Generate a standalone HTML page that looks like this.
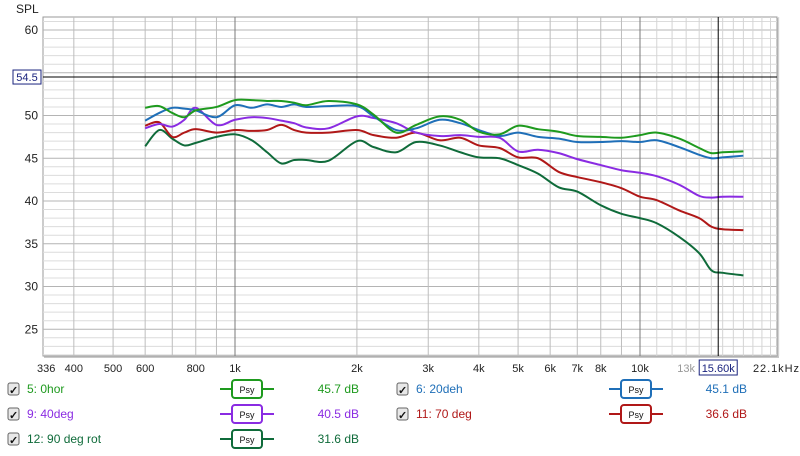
<!DOCTYPE html>
<html><head><meta charset="utf-8"><style>
body{margin:0;background:#fff;font-family:"Liberation Sans",sans-serif;}
svg{display:block}
</style></head><body>
<svg id="chart" width="800" height="456" viewBox="0 0 800 456" xmlns="http://www.w3.org/2000/svg" font-family="Liberation Sans, sans-serif">
<rect x="0" y="0" width="800" height="456" fill="#fff"/>
<text x="16" y="13" font-size="12" fill="#222">SPL</text>
<rect x="44" y="18" width="735" height="340" fill="#c8c8c8"/>
<rect x="43" y="17" width="734" height="339" fill="#fff" stroke="#999"/>
<g id="grid"></g>
<g id="series"></g>
<g id="axes"></g>
<g id="legend"></g>
</svg>
<script>
const freqs=[600,650,700,750,800,900,1000,1100,1200,1300,1400,1500,1700,2000,2200,2500,2800,3200,3600,4000,4500,5000,5600,6300,7000,8000,9000,10000,11000,12500,14000,15000,16000,18000];
const hor0=[50.9,51.1,50.3,49.8,50.6,51.0,51.8,51.8,51.7,51.7,51.5,51.2,51.7,51.3,50.1,48.0,48.9,49.9,49.5,48.1,47.8,48.8,48.4,48.1,47.6,47.5,47.4,47.7,48.0,47.3,46.2,45.6,45.7,45.8];
const deh20=[49.4,50.3,50.9,50.8,50.6,49.8,51.2,50.9,51.3,51.0,51.3,51.0,51.1,51.1,49.9,48.3,48.5,49.5,49.1,48.3,47.6,48.0,47.5,47.3,46.9,46.9,47.0,46.9,47.1,46.3,45.4,45.0,45.1,45.3];
const deg40=[48.5,49.0,48.7,49.5,50.9,48.9,49.5,49.8,49.7,49.4,49.1,48.6,48.5,49.9,49.7,49.1,48.0,47.6,47.7,47.5,47.4,45.8,46.0,45.6,44.9,44.2,43.6,43.3,42.9,41.9,40.6,40.4,40.5,40.5];
const deg70=[48.8,49.2,47.5,48.0,48.4,48.0,48.3,48.2,48.3,48.9,48.3,48.0,48.0,48.3,47.7,47.4,48.0,47.1,47.4,46.5,46.2,45.1,45.0,43.4,42.8,42.2,41.5,40.5,40.1,38.9,38.0,37.0,36.7,36.6];
const rot90=[46.4,48.3,47.3,46.5,46.8,47.5,47.8,47.1,45.7,44.4,44.8,44.8,44.7,47.0,46.3,45.7,46.9,46.5,45.7,45.1,45.0,44.2,43.2,41.6,41.1,39.5,38.5,38.0,37.4,35.8,33.9,31.9,31.6,31.3];
const yTicks=[60,50,45,40,35,30,25];
const xTickVals=[336,400,500,600,800,1000,2000,3000,4000,5000,6000,7000,8000,10000,13000,22100];
const xTickLabels=["336","400","500","600","800","1k","2k","3k","4k","5k","6k","7k","8k","10k","13k","22.1kHz"];
const cursorFreq=15600, cursorDb=54.5;
const legendNames=["5: 0hor","6: 20deh","9: 40deg","11: 70 deg","12: 90 deg rot"];
const legendValues=["45.7 dB","45.1 dB","40.5 dB","36.6 dB","31.6 dB"];

const NS="http://www.w3.org/2000/svg";
const X=f=>235+405*Math.log10(f/1000);
const Y=d=>30+(60-d)*8.55;
function mk(tag,attrs,parent){const e=document.createElementNS(NS,tag);for(const k in attrs)e.setAttribute(k,attrs[k]);parent.appendChild(e);return e;}
const grid=document.getElementById('grid'),axes=document.getElementById('axes'),ser=document.getElementById('series'),leg=document.getElementById('legend');
for(let d=22;d<=61;d++){const y=Y(d);const l=mk('line',{x1:43,x2:777,y1:y,y2:y,stroke:d%5===0?'#b4b4b4':'#dcdcdc','stroke-width':1},grid);

}
const vf=[];for(let f=400;f<1000;f+=100)vf.push(f);for(let f=2000;f<10000;f+=1000)vf.push(f);for(let f=11000;f<=22000;f+=1000)vf.push(f);
vf.forEach(f=>{const x=X(f);const l=mk('line',{x1:x,x2:x,y1:17,y2:356,stroke:f>10000?'#d4d4d4':'#bdbdbd','stroke-width':1},grid);

});
[1000,10000].forEach(f=>{const x=X(f);const l=mk('line',{x1:x,x2:x,y1:17,y2:356,stroke:'#7a7a7a','stroke-width':1},grid);

});
const colors=['#1e9a1e','#1f6fb8','#8a2be2','#b01818','#0f6b3a'];
const data=[hor0,deh20,deg40,deg70,rot90];
const snames=['series-0hor','series-20deh','series-40deg','series-70deg','series-90deg-rot'];
function smooth(pts){let d=`M${pts[0][0]},${pts[0][1]}`;for(let i=0;i<pts.length-1;i++){const p0=pts[Math.max(0,i-1)],p1=pts[i],p2=pts[i+1],p3=pts[Math.min(pts.length-1,i+2)];
const c1=[p1[0]+(p2[0]-p0[0])/6,p1[1]+(p2[1]-p0[1])/6],c2=[p2[0]-(p3[0]-p1[0])/6,p2[1]-(p3[1]-p1[1])/6];d+=`C${c1[0]},${c1[1]} ${c2[0]},${c2[1]} ${p2[0]},${p2[1]}`;}return d;}
[4,3,2,1,0].forEach(i=>{const pts=freqs.map((f,j)=>[X(f),Y(data[i][j])]);const p=mk('path',{d:smooth(pts),fill:'none',stroke:colors[i],'stroke-width':2},ser);

});
const cx=X(cursorFreq),cy=Y(cursorDb);
const ch=mk('line',{x1:43,x2:777,y1:cy,y2:cy,stroke:'#000','stroke-width':1},axes);


const cv=mk('line',{x1:cx,x2:cx,y1:17,y2:356,stroke:'#000','stroke-width':1},axes);


yTicks.forEach(t=>{const tx=mk('text',{x:38,y:Y(t)+4,'font-size':12,'text-anchor':'end',fill:'#222'},axes);tx.textContent=t;

});
const yb=mk('rect',{x:13,y:cy-7,width:28,height:14,fill:'#fff',stroke:'#1a237e'},axes);


const ybt=mk('text',{x:27,y:cy+4,'font-size':11,'text-anchor':'middle',fill:'#1a237e'},axes);ybt.textContent=cursorDb.toFixed(1);


xTickVals.forEach((f,i)=>{let x=X(f);let anchor='middle';if(i===0)x+=3;if(i===xTickVals.length-1){x=799;anchor='end';}
const tx=mk('text',{x:x,y:372,'font-size':11,'text-anchor':anchor,fill:f===13000?'#999':'#222'},axes);tx.textContent=xTickLabels[i];
if(i===xTickVals.length-1)tx.setAttribute('textLength','46');

});
const xb=mk('rect',{x:cx-19,y:360,width:38,height:15,fill:'#fff',stroke:'#1a237e'},axes);


const xbt=mk('text',{x:cx,y:372,'font-size':11,'text-anchor':'middle',fill:'#1a237e'},axes);xbt.textContent=(cursorFreq/1000).toFixed(2)+'k';


const pos=[[8,391],[397,391],[8,416],[397,416],[8,441]];
const psyX=[220,609,220,609,220];
const valX=[359,747,359,747,359];
[0,1,2,3,4].forEach(i=>{const [lx,ly]=pos[i];
const g=mk('g',{},leg);


const cb=mk('rect',{x:lx,y:ly-8,width:11,height:12,rx:2,fill:'#e8e8e8',stroke:'#666'},g);


const ck=mk('text',{x:lx+1,y:ly+3,'font-size':11,fill:'#111','font-weight':'bold'},g);ck.textContent='✓';


const nm=mk('text',{x:lx+19,y:ly+2,'font-size':12,fill:colors[i]},g);nm.textContent=legendNames[i];


const bx=psyX[i];
const ln=mk('line',{x1:bx,x2:bx+54,y1:ly-2,y2:ly-2,stroke:colors[i],'stroke-width':2},g);


const pb=mk('rect',{x:bx+12,y:ly-11,width:30,height:18,rx:3,fill:'#fff',stroke:colors[i],'stroke-width':2},g);


const pt=mk('text',{x:bx+27,y:ly+2,'font-size':9,'text-anchor':'middle',fill:'#111'},g);pt.textContent='Psy';


const vt=mk('text',{x:valX[i],y:ly+2,'font-size':12,'text-anchor':'end',fill:colors[i]},g);vt.textContent=legendValues[i];

});
</script>
</body></html>
